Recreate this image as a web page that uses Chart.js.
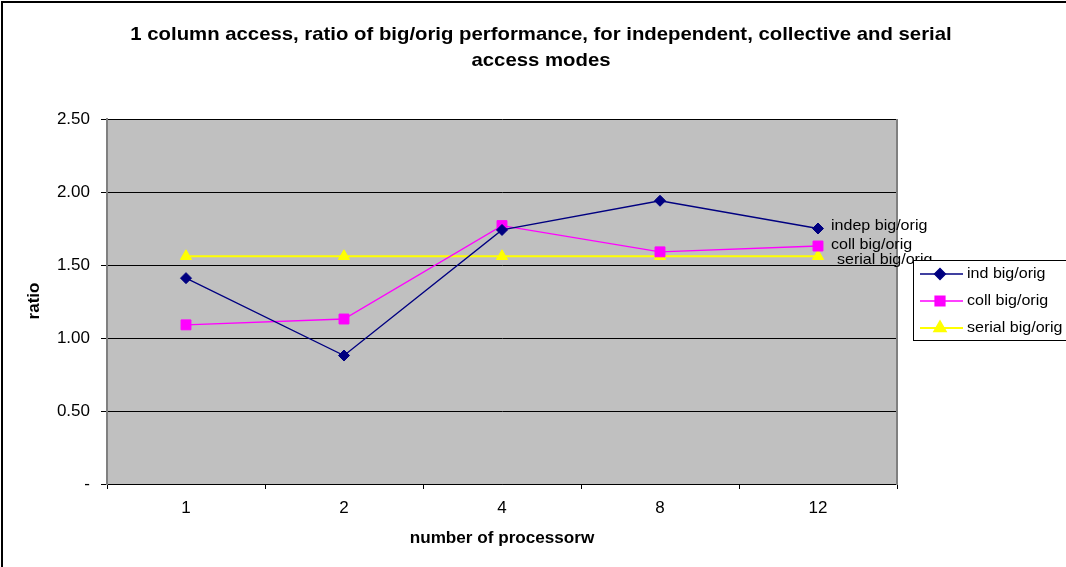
<!DOCTYPE html>
<html>
<head>
<meta charset="utf-8">
<script src="https://cdn.jsdelivr.net/npm/chart.js@4"></script>
<style>
  html, body { margin: 0; padding: 0; background: #ffffff; }
  #wrap { width: 1066px; height: 567px; position: relative; }
</style>
</head>
<body>
<div id="wrap"><canvas id="c" width="1066" height="567"></canvas></div>
<script>
// Processor counts along the x axis
const processors = ['1', '2', '4', '8', '12'];

// Ratio of big/orig performance per access mode
const indBigOrig    = [1.41, 0.88, 1.74, 1.94, 1.75];
const collBigOrig   = [1.09, 1.13, 1.77, 1.59, 1.63];
const serialBigOrig = [1.56, 1.56, 1.56, 1.56, 1.56];

// Y axis tick values
const ratioTicks = [0, 0.5, 1.0, 1.5, 2.0, 2.5];

const seriesNames  = ['ind big/orig', 'coll big/orig', 'serial big/orig'];
const endLabels    = ['indep big/orig', 'coll big/orig', 'serial big/orig'];
const titleLines   = ['1 column access, ratio of big/orig performance, for independent, collective and serial', 'access modes'];

const FONT = '"Liberation Sans", Arial, sans-serif';
const WIDEN = 1.07;

// text with a slight horizontal widening
function wideText(ctx, text, x, y, align) {
  ctx.save();
  ctx.translate(x, y);
  ctx.scale(WIDEN, 1);
  ctx.textAlign = align;
  ctx.fillText(text, 0, 0);
  ctx.restore();
}

const frameAndDecor = {
  id: 'frameAndDecor',
  beforeDraw(chart) {
    const { ctx, chartArea: a } = chart;
    ctx.save();
    ctx.fillStyle = '#ffffff';
    ctx.fillRect(0, 0, chart.width, chart.height);
    // outer frame (runs off the right and bottom edges)
    ctx.strokeStyle = '#000000';
    ctx.lineWidth = 2;
    ctx.strokeRect(2, 2, chart.width + 20, chart.height + 20);
    // plot background
    ctx.fillStyle = '#c0c0c0';
    ctx.fillRect(a.left, a.top, a.right - a.left, a.bottom - a.top);
    ctx.restore();
  },
  beforeDatasetsDraw(chart) {
    const { ctx, chartArea: a } = chart;
    ctx.save();
    ctx.strokeStyle = '#808080';
    ctx.lineWidth = 2;
    ctx.beginPath();
    ctx.moveTo(a.right, a.top);
    ctx.lineTo(a.right, a.bottom + 1);
    ctx.stroke();
    ctx.restore();
  },
  afterDraw(chart) {
    const { ctx, chartArea: a } = chart;
    ctx.save();
    ctx.fillStyle = '#000000';
    ctx.textBaseline = 'middle';
    // title
    ctx.font = 'bold 19px ' + FONT;
    wideText(ctx, titleLines[0], 541, 35, 'center');
    wideText(ctx, titleLines[1], 541, 61, 'center');
    // axis titles
    ctx.font = 'bold 16px ' + FONT;
    wideText(ctx, 'number of processorw', (a.left + a.right) / 2, 539, 'center');
    ctx.save();
    ctx.translate(34, 301);
    ctx.rotate(-Math.PI / 2);
    ctx.textAlign = 'center';
    ctx.font = 'bold 17px ' + FONT;
    ctx.fillText('ratio', 0, 0);
    ctx.restore();

    // series names beside the last points
    const offs = [[13, -3], [13, -1], [19, 4]];
    ctx.font = '15px ' + FONT;
    chart.data.datasets.forEach((ds, i) => {
      const meta = chart.getDatasetMeta(i);
      const p = meta.data[meta.data.length - 1];
      wideText(ctx, endLabels[i], p.x + offs[i][0], p.y + offs[i][1], 'left');
    });

    // legend box
    const lx = 913, ly = 260, lh = 80;
    ctx.fillStyle = '#ffffff';
    ctx.fillRect(lx, ly, chart.width - lx + 10, lh);
    ctx.strokeStyle = '#000000';
    ctx.lineWidth = 1;
    ctx.strokeRect(lx + 0.5, ly + 0.5, chart.width - lx + 10, lh);
    const rows = [274, 301, 328];
    chart.data.datasets.forEach((ds, i) => {
      const y = rows[i];
      ctx.strokeStyle = ds.borderColor;
      ctx.lineWidth = ds.borderWidth;
      ctx.beginPath();
      ctx.moveTo(920, y);
      ctx.lineTo(963, y);
      ctx.stroke();
      Chart.helpers.drawPoint(ctx, {
        pointStyle: ds.pointStyle,
        radius: ds.pointRadius,
        borderWidth: 1,
        rotation: 0
      }, 940, y);
      ctx.fillStyle = ds.pointBackgroundColor;
      ctx.strokeStyle = ds.pointBorderColor;
      ctx.fill();
      ctx.fillStyle = '#000000';
      ctx.font = '15px ' + FONT;
      wideText(ctx, seriesNames[i], 967, y, 'left');
    });
    ctx.restore();
  }
};

new Chart(document.getElementById('c'), {
  type: 'line',
  data: {
    labels: processors,
    datasets: [
      {
        label: seriesNames[0],
        data: indBigOrig,
        borderColor: '#000080',
        borderWidth: 1.3,
        pointStyle: 'rectRot',
        pointRadius: 5.5,
        pointBackgroundColor: '#000080',
        pointBorderColor: '#000080',
        pointBorderWidth: 1,
        tension: 0
      },
      {
        label: seriesNames[1],
        data: collBigOrig,
        borderColor: '#ff00ff',
        borderWidth: 1.3,
        pointStyle: 'rect',
        pointRadius: 7,
        pointBackgroundColor: '#ff00ff',
        pointBorderColor: '#ff00ff',
        pointBorderWidth: 1,
        tension: 0
      },
      {
        label: seriesNames[2],
        data: serialBigOrig,
        borderColor: '#ffff00',
        borderWidth: 2,
        pointStyle: 'triangle',
        pointRadius: 6.5,
        pointBackgroundColor: '#ffff00',
        pointBorderColor: '#ffff00',
        pointBorderWidth: 1,
        tension: 0
      }
    ]
  },
  options: {
    responsive: false,
    animation: false,
    layout: { padding: { left: 0, right: 169, top: 119, bottom: 0 } },
    plugins: {
      legend: { display: false },
      title: { display: false },
      tooltip: { enabled: false }
    },
    scales: {
      x: {
        offset: true,
        afterFit(s) { s.height = 83; },
        grid: { display: true, drawOnChartArea: false, offset: true, tickLength: 5, color: '#000000', tickColor: '#000000' },
        border: { display: true, color: '#000000', width: 1 },
        ticks: { color: '#000000', font: { family: FONT, size: 17 }, padding: 9, maxRotation: 0 }
      },
      y: {
        min: 0,
        max: 2.5,
        afterFit(s) { s.width = 107; },
        afterBuildTicks(s) { s.ticks = ratioTicks.map(v => ({ value: v })); },
        grid: { color: '#000000', tickColor: '#000000', tickLength: 6, lineWidth: 1 },
        border: { display: true, color: '#808080', width: 2 },
        ticks: {
          color: '#000000',
          font: { family: FONT, size: 17 },
          padding: 11,
          callback: v => (v === 0 ? '-' : v.toFixed(2))
        }
      }
    }
  },
  plugins: [frameAndDecor]
});
</script>
</body>
</html>
